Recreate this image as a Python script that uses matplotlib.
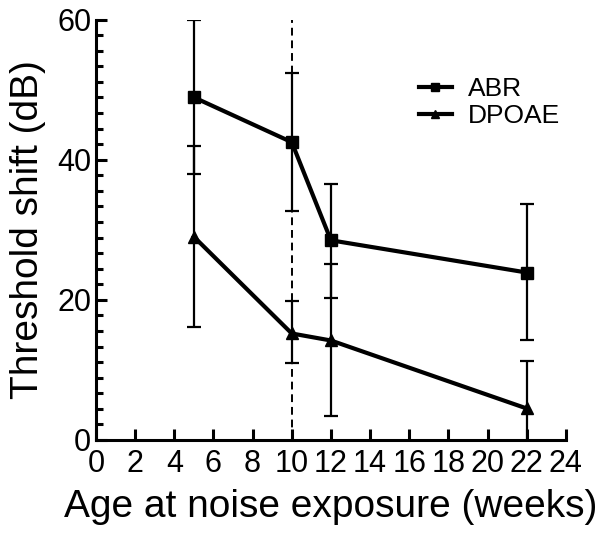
import numpy as np
import matplotlib
matplotlib.use("Agg")
import matplotlib.pyplot as plt
from matplotlib.ticker import FixedLocator

plt.rcParams['font.family'] = ['Liberation Sans', 'DejaVu Sans']

# age at noise exposure (weeks)
ages = [5, 10, 12, 22]

# ABR threshold shift (dB) and error bar ends
abr_mean = [48.9, 42.5, 28.5, 23.9]
abr_upper = [59.9, 52.4, 36.5, 33.7]
abr_lower = [37.9, 32.7, 20.3, 14.2]

# DPOAE threshold shift (dB) and error bar ends
dpoae_mean = [29.0, 15.2, 14.2, 4.5]
dpoae_upper = [41.9, 19.8, 25.1, 11.3]
dpoae_lower = [16.1, 11.0, 3.4, -2.3]

x_ticks = list(range(0, 25, 2))
y_ticks = [0, 20, 40, 60]


def err(mean, lower, upper):
    m = np.array(mean)
    return [m - np.array(lower), np.array(upper) - m]


fig = plt.figure(figsize=(6.0, 5.39), dpi=100)
ax = fig.add_axes([0.16, 0.1837, 0.783, 0.78])

ax.axvline(10, ymin=0, ymax=1, color='black', linestyle=(0, (4, 2.5)), linewidth=1.4, zorder=1)

ax.errorbar(ages, abr_mean, yerr=err(abr_mean, abr_lower, abr_upper), color='black',
            linewidth=3, marker='s', markersize=8.5, ecolor='black', elinewidth=1.6,
            capsize=4.8, capthick=1.6, label='ABR', zorder=3)
ax.errorbar(ages, dpoae_mean, yerr=err(dpoae_mean, dpoae_lower, dpoae_upper), color='black',
            linewidth=3, marker='^', markersize=8.5, ecolor='black', elinewidth=1.6,
            capsize=4.8, capthick=1.6, label='DPOAE', zorder=3)

ax.set_xlim(0, 24)
ax.set_ylim(0, 60)
ax.xaxis.set_major_locator(FixedLocator(x_ticks))
ax.yaxis.set_major_locator(FixedLocator(y_ticks))
ax.yaxis.set_minor_locator(FixedLocator(np.linspace(0, 60, 28)))

for s in ['top', 'right']:
    ax.spines[s].set_visible(False)
for s in ['left', 'bottom']:
    ax.spines[s].set_linewidth(2.2)

ax.tick_params(axis='both', which='major', direction='in', length=8, width=2.2,
               labelsize=22)
ax.tick_params(axis='x', which='major', pad=6.5)
ax.tick_params(axis='y', which='major', pad=3.5)
ax.tick_params(axis='y', which='minor', direction='in', length=5, width=2.2)

ax.set_xlabel('Age at noise exposure (weeks)', fontsize=28, labelpad=7)
ax.set_ylabel('Threshold shift (dB)', fontsize=28, labelpad=8)

handles, labels = ax.get_legend_handles_labels()
handles = [h[0] for h in handles]
ax.legend(handles, labels, loc='upper left', bbox_to_anchor=(0.698, 0.857),
          bbox_transform=fig.transFigure, frameon=False, borderpad=0, borderaxespad=0,
          fontsize=19, markerscale=0.7, handlelength=1.25, handletextpad=0.6,
          labelspacing=0.12)

fig.savefig('out.png', dpi=100)
